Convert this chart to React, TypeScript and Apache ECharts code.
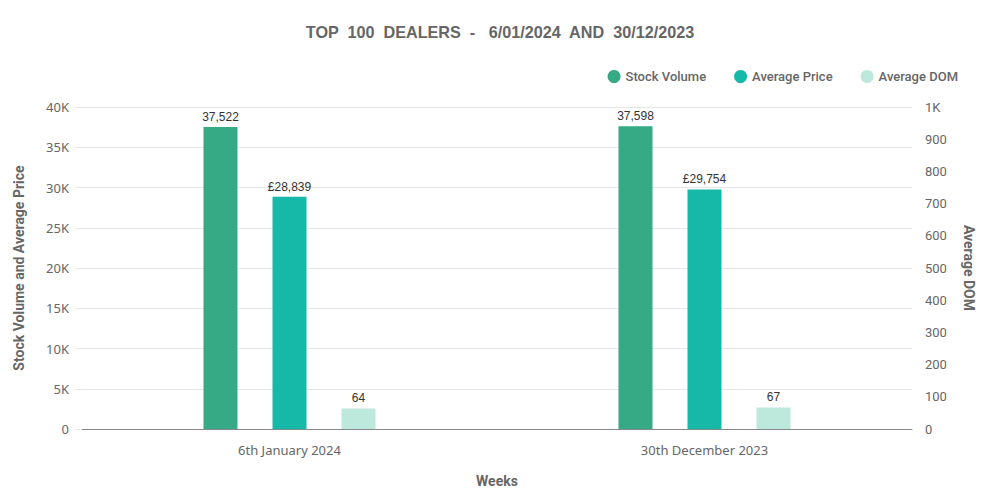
import { useEffect, useRef } from 'react';
import * as echarts from 'echarts';

const weeks = ['6th January 2024', '30th December 2023'];
const stockVolume = [37522, 37598];
const averagePrice = [28839, 29754];
const averageDom = [64, 67];

const colors = {
  stock: '#35aa84',
  price: '#16b9a7',
  dom: '#bde8dc',
};

const fmtNum = (v: number) => v.toLocaleString('en-GB');
const kLabel = (v: number) => (v === 0 ? '0' : v >= 1000 ? `${v / 1000}K` : String(v));

export default function App() {
  const containerRef = useRef<HTMLDivElement>(null);

  useEffect(() => {
    if (!containerRef.current) return;
    const chart = echarts.init(containerRef.current, null, { renderer: 'svg' });

    const labelStyle = {
      show: true,
      position: 'top' as const,
      distance: 4,
      color: '#333',
      fontSize: 12,
      fontFamily: 'Liberation Sans',
    };

    const option: echarts.EChartsOption = {
      animation: false,
      backgroundColor: '#fff',
      title: {
        text: 'TOP  100  DEALERS  -   6/01/2024  AND  30/12/2023',
        left: 'center',
        top: 19,
        textStyle: { color: '#666', fontSize: 16.2, fontWeight: 'bold', fontFamily: 'Liberation Sans' },
      },
      legend: {
        right: 37,
        top: 65,
        icon: 'circle',
        itemWidth: 13,
        itemHeight: 13,
        itemGap: 28,
        textStyle: { color: '#666', fontSize: 13, fontWeight: 500, fontFamily: 'Roboto' },
        data: ['Stock Volume', 'Average Price', 'Average DOM'],
      },
      grid: { left: 82, right: 88, top: 107, bottom: 71 },
      xAxis: {
        type: 'category',
        data: weeks,
        name: 'Weeks',
        nameLocation: 'middle',
        nameGap: 45,
        nameTextStyle: { color: '#666', fontSize: 14, fontWeight: 'bold', fontFamily: 'Roboto' },
        axisLine: { lineStyle: { color: '#888' } },
        axisTick: { show: false },
        axisLabel: { color: '#666', fontSize: 13, fontFamily: 'Noto Sans', margin: 14 },
      },
      yAxis: [
        {
          type: 'value',
          min: 0,
          max: 40000,
          interval: 5000,
          name: 'Stock Volume and Average Price',
          nameLocation: 'middle',
          nameGap: 56,
          nameTextStyle: { color: '#666', fontSize: 14, fontWeight: 'bold', fontFamily: 'Roboto' },
          axisLine: { show: false },
          axisTick: { show: true, length: 7, lineStyle: { color: '#e6e6e6' } },
          axisLabel: { color: '#666', fontSize: 13, fontFamily: 'Noto Sans', margin: 13, formatter: kLabel },
          splitLine: { lineStyle: { color: '#e6e6e6' } },
        },
        {
          type: 'value',
          min: 0,
          max: 1000,
          interval: 100,
          name: 'Average DOM',
          nameLocation: 'middle',
          nameRotate: -90,
          nameGap: 50,
          nameTextStyle: { color: '#666', fontSize: 14, fontWeight: 'bold', fontFamily: 'Roboto' },
          axisLine: { show: false },
          axisTick: { show: false },
          axisLabel: { color: '#666', fontSize: 13, fontFamily: 'Roboto', margin: 13, formatter: kLabel },
          splitLine: { show: false },
        },
      ],
      series: [
        {
          name: 'Stock Volume',
          type: 'bar',
          data: stockVolume,
          barWidth: 34,
          barGap: '103%',
          itemStyle: { color: colors.stock },
          label: { ...labelStyle, formatter: (p: any) => fmtNum(p.value) },
        },
        {
          name: 'Average Price',
          type: 'bar',
          data: averagePrice,
          barWidth: 34,
          barGap: '103%',
          itemStyle: { color: colors.price },
          label: { ...labelStyle, formatter: (p: any) => `£${fmtNum(p.value)}` },
        },
        {
          name: 'Average DOM',
          type: 'bar',
          yAxisIndex: 1,
          data: averageDom,
          barWidth: 34,
          barGap: '103%',
          itemStyle: { color: colors.dom },
          label: { ...labelStyle, formatter: (p: any) => fmtNum(p.value) },
        },
      ],
    };

    chart.setOption(option);
    return () => chart.dispose();
  }, []);

  return <div ref={containerRef} style={{ width: 1000, height: 500, margin: -8 }} />;
}
